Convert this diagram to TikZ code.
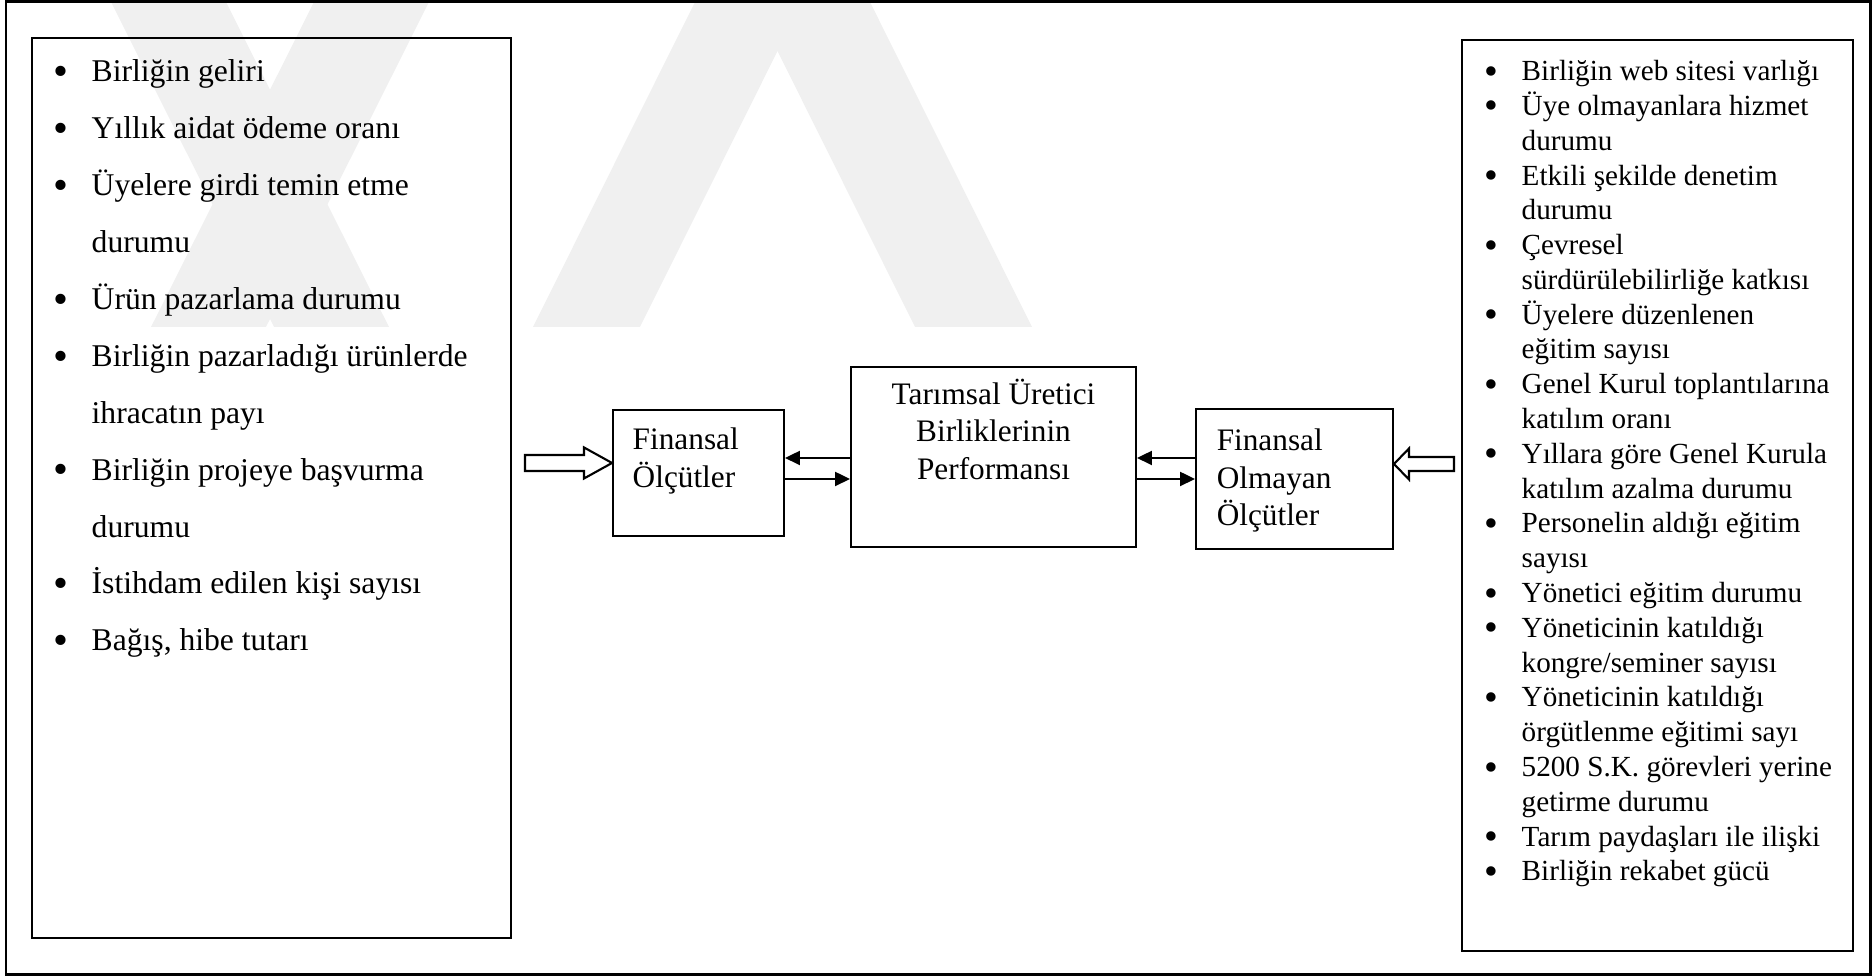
\documentclass[tikz,border=0pt]{standalone}
\usepackage{fontspec}
\setmainfont{Liberation Serif}
\usetikzlibrary{arrows.meta,calc}

\newcommand{\bul}{\raisebox{-0.12em}{\scalebox{1.35}{\textbullet}}}

\tikzset{
  box/.style={draw, line width=0.55pt, inner sep=0pt},
  txt/.style={inner sep=0pt, font=\fontsize{8.9}{10.7}\selectfont},
  arr/.style={-{Triangle[length=0.15cm,width=0.14cm]}, line width=0.6pt},
  hollow/.style={draw, fill=white, line width=0.6pt, line join=miter},
  wmark/.style={fill=black!6}
}

\begin{document}
\begin{tikzpicture}

    \useasboundingbox (0,0) rectangle (18.74,9.77);

    % Watermark
    \begin{scope}
      \clip (0.06,0.02) rectangle (18.70,9.75);
      \fill[wmark] (1.10,9.77) -- (2.25,9.77) -- (3.89,6.50) -- (2.74,6.50) -- cycle;
      \fill[wmark] (3.15,9.77) -- (4.30,9.77) -- (2.66,6.50) -- (1.51,6.50) -- cycle;
      \fill[wmark] (6.96,9.77) -- (8.03,9.77) -- (6.40,6.50) -- (5.33,6.50) -- cycle;
      \fill[wmark] (7.52,9.77) -- (8.69,9.77) -- (10.32,6.50) -- (9.15,6.50) -- cycle;
    \end{scope}

    % Frame
    \draw[line width=0.85pt] (0.06,0.02) rectangle (18.70,9.75);

    % Boxes
    \node[box, minimum width=4.79cm, minimum height=9.00cm] (finlist) at (2.715,4.89) {};
    \node[box, minimum width=3.91cm, minimum height=9.11cm] (nonfinlist) at (16.575,4.815) {};
    \node[box, minimum width=1.71cm, minimum height=1.26cm] (fin) at (6.985,5.04) {};
    \node[box, minimum width=2.85cm, minimum height=1.80cm] (perf) at (9.935,5.20) {};
    \node[box, minimum width=1.97cm, minimum height=1.40cm] (nonfin) at (12.945,4.98) {};

    % Box texts
    \node[txt, align=center, anchor=north] (perftxt) at ([yshift=-0.12cm]perf.north)
      {Tarımsal Üretici\\Birliklerinin\\Performansı};
    \node[txt, align=left, anchor=north west] (fintxt) at ([xshift=0.20cm,yshift=-0.18cm]fin.north west)
      {Finansal\\Ölçütler};
    \node[txt, align=left, anchor=north west] (nonfintxt) at ([xshift=0.21cm,yshift=-0.20cm]nonfin.north west)
      {Finansal\\Olmayan\\Ölçütler};

    % Financial measures
    \node[inner sep=0pt, anchor=north west, font=\fontsize{9}{16.2}\selectfont] (finitems) at (0.525,9.36) {%
      \begin{tabular}{@{}p{0.385cm}@{}l@{}}
        \bul & Birliğin geliri\\
        \bul & Yıllık aidat ödeme oranı\\
        \bul & Üyelere girdi temin etme\\
             & durumu\\
        \bul & Ürün pazarlama durumu\\
        \bul & Birliğin pazarladığı ürünlerde\\
             & ihracatın payı\\
        \bul & Birliğin projeye başvurma\\
             & durumu\\
        \bul & İstihdam edilen kişi sayısı\\
        \bul & Bağış, hibe tutarı
      \end{tabular}};

    % Non-financial measures
    \node[inner sep=0pt, anchor=north west, font=\fontsize{8.3}{9.9}\selectfont] (nonfinitems) at (14.84,9.214) {%
      \begin{tabular}{@{}p{0.37cm}@{}l@{}}
        \bul & Birliğin web sitesi varlığı\\
        \bul & Üye olmayanlara hizmet\\
             & durumu\\
        \bul & Etkili şekilde denetim\\
             & durumu\\
        \bul & Çevresel\\
             & sürdürülebilirliğe katkısı\\
        \bul & Üyelere düzenlenen\\
             & eğitim sayısı\\
        \bul & Genel Kurul toplantılarına\\
             & katılım oranı\\
        \bul & Yıllara göre Genel Kurula\\
             & katılım azalma durumu\\
        \bul & Personelin aldığı eğitim\\
             & sayısı\\
        \bul & Yönetici eğitim durumu\\
        \bul & Yöneticinin katıldığı\\
             & kongre/seminer sayısı\\
        \bul & Yöneticinin katıldığı\\
             & örgütlenme eğitimi sayı\\
        \bul & 5200 S.K. görevleri yerine\\
             & getirme durumu\\
        \bul & Tarım paydaşları ile ilişki\\
        \bul & Birliğin rekabet gücü
      \end{tabular}};

    % Arrow levels
    \coordinate (up) at (0,5.19);
    \coordinate (lo) at (0,4.98);

    % Feedback arrows
    \draw[arr] (perf.west |- up) -- (fin.east |- up);
    \draw[arr] (fin.east |- lo) -- (perf.west |- lo);
    \draw[arr] (nonfin.west |- up) -- (perf.east |- up);
    \draw[arr] (perf.east |- lo) -- (nonfin.west |- lo);

    % Input arrows (hollow)
    \draw[hollow] ([yshift=0.10cm]fin.west) -- ++(-0.28,0.155) -- ++(0,-0.075)
      -- ++(-0.59,0) -- ++(0,-0.16) -- ++(0.59,0) -- ++(0,-0.075) -- cycle;
    \draw[hollow] ([yshift=0.15cm]nonfin.east) -- ++(0.15,0.155) -- ++(0,-0.085)
      -- ++(0.45,0) -- ++(0,-0.14) -- ++(-0.45,0) -- ++(0,-0.085) -- cycle;

\end{tikzpicture}
\end{document}
